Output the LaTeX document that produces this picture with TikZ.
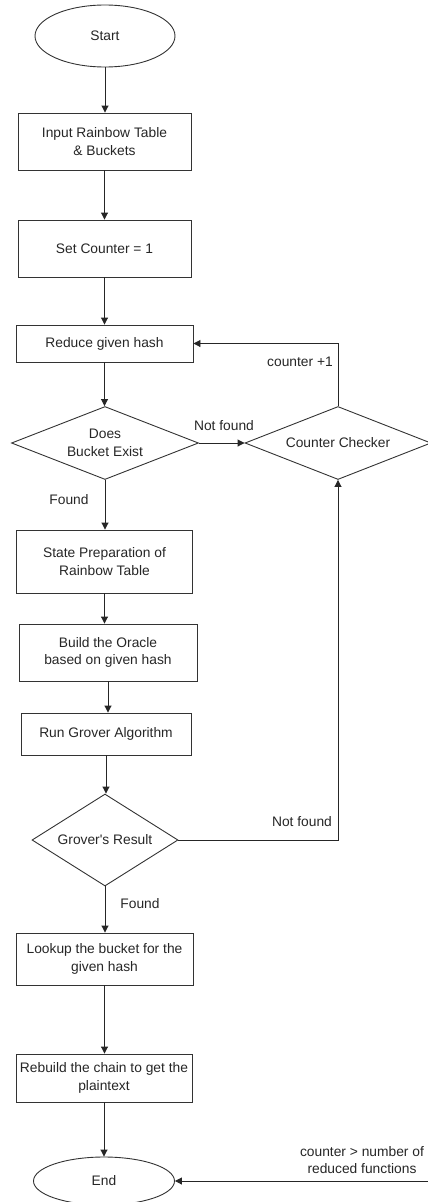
\documentclass[tikz,border=0pt]{standalone}
\usepackage{fontspec}
\setmainfont{Liberation Sans}[Ligatures=TeXOff]
\usetikzlibrary{shapes.geometric,arrows.meta}
\begin{document}
\begin{tikzpicture}[x=1pt,y=-1pt,
  every node/.style={font=\fontsize{13.8}{17.5}\selectfont, text=black!85},
  box/.style={draw=black!80, line width=0.9pt, rectangle, inner sep=0pt, align=center},
  oval/.style={draw=black!80, line width=0.9pt, ellipse, inner sep=0pt},
  dia/.style={draw=black!80, line width=0.9pt, diamond, inner sep=0pt, align=center},
  arr/.style={draw=black!85, line width=0.9pt, -{Triangle[length=7pt,width=7pt]}},
  lbl/.style={inner sep=0pt, align=center}]
\useasboundingbox (0,0) rectangle (428,1202);
\node[oval, minimum width=140pt, minimum height=62pt] (start) at (105,36) {Start};
\node[box, minimum width=173pt, minimum height=57pt] (input) at (104.5,141.5) {Input Rainbow Table\\ \& Buckets};
\node[box, minimum width=173pt, minimum height=57pt] (setc) at (104.5,248.5) {Set Counter = 1};
\node[box, minimum width=177pt, minimum height=37pt] (reduce) at (104.5,343.5) {Reduce given hash};
\node[dia, minimum width=187pt, minimum height=73pt, aspect=2.56] (bucket) at (105,443) {Does\\ Bucket Exist};
\node[dia, minimum width=186pt, minimum height=73pt, aspect=2.55] (checker) at (338,443) {Counter Checker};
\node[box, minimum width=176pt, minimum height=63pt] (prep) at (104.5,561.5) {State Preparation of\\ Rainbow Table};
\node[box, minimum width=178pt, minimum height=57pt] (oracle) at (108,652.5) {Build the Oracle\\ based on given hash};
\node[box, minimum width=170pt, minimum height=42pt] (grover) at (106,734) {Run Grover Algorithm};
\node[dia, minimum width=146pt, minimum height=92pt, aspect=1.59] (result) at (105,840) {Grover's Result};
\node[box, minimum width=177pt, minimum height=52pt] (lookup) at (104.5,959) {Lookup the bucket for the\\ given hash};
\node[box, minimum width=176pt, minimum height=48pt] (rebuild) at (104,1078) {Rebuild the chain to get the\\ plaintext};
\node[oval, minimum width=141pt, minimum height=48pt] (end) at (104,1181) {End};
\coordinate (offright) at (428,1181);

\draw[arr] (start.south) -- (start.south |- input.north);
\draw[arr] (input.south) -- (input.south |- setc.north);
\draw[arr] (setc.south) -- (setc.south |- reduce.north);
\draw[arr] (reduce.south) -- (reduce.south |- bucket.north);
\draw[arr] (bucket.east) -- (checker.west);
\draw[arr] (checker.north) -- (checker.north |- reduce.east) -- (reduce.east);
\draw[arr] (bucket.south) -- (bucket.south |- prep.north);
\draw[arr] (prep.south) -- (prep.south |- oracle.north);
\draw[arr] (oracle.south) -- (oracle.south |- grover.north);
\draw[arr] (grover.south) -- (grover.south |- result.north);
\draw[arr] (result.east) -- (result.east -| checker.south) -- (checker.south);
\draw[arr] (result.south) -- (result.south |- lookup.north);
\draw[arr] (lookup.south) -- (lookup.south |- rebuild.north);
\draw[arr] (rebuild.south) -- (rebuild.south |- end.north);
\draw[arr] (offright) -- (end.east);

\node[lbl] (l1) at (224,426) {Not found};
\node[lbl] (l2) at (300,362) {counter +1};
\node[lbl] (l3) at (69,500) {Found};
\node[lbl] (l4) at (302,822) {Not found};
\node[lbl] (l5) at (140,904) {Found};
\node[lbl, font=\fontsize{13.8}{16.5}\selectfont] (l6) at (362,1160) {counter > number of\\ reduced functions};
\end{tikzpicture}
\end{document}
